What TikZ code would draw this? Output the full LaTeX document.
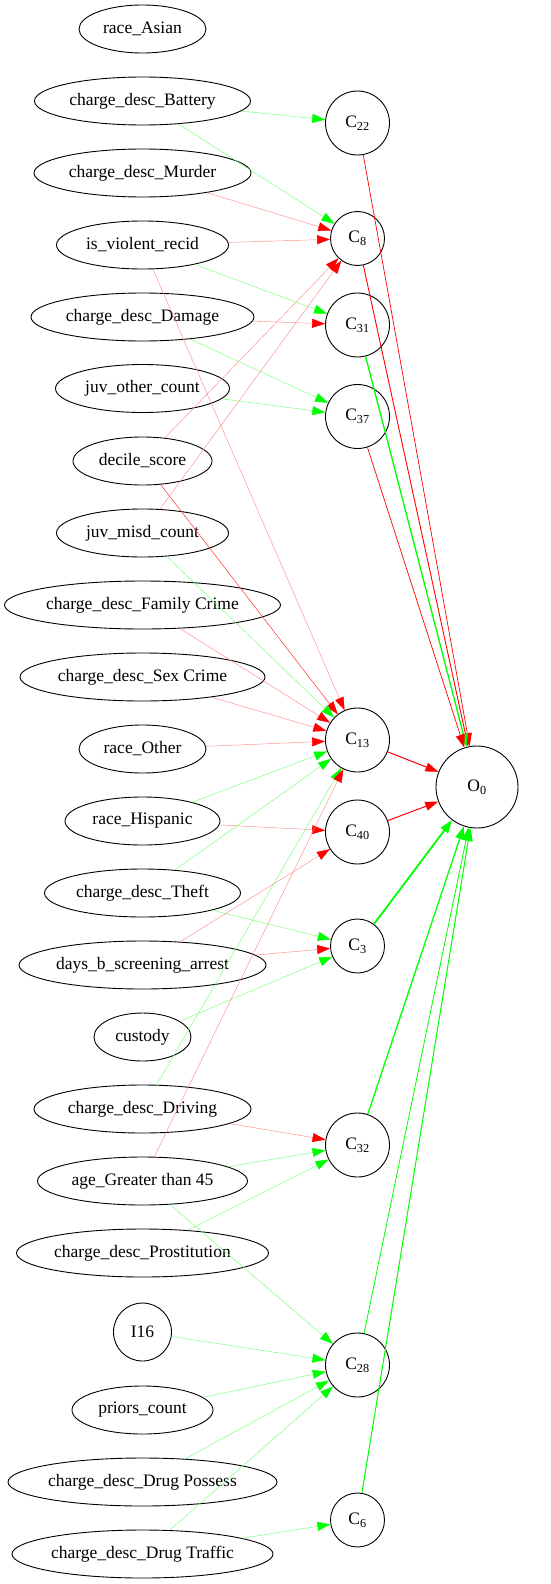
\documentclass[tikz,border=0pt]{standalone}
\usepackage{fontspec}
\setmainfont{Liberation Serif}
\usetikzlibrary{shapes.geometric,arrows.meta}
\definecolor{gr}{RGB}{0,255,0}
\definecolor{rd}{RGB}{255,0,0}
\tikzset{
  feat/.style={draw,ellipse,line width=0.9pt,inner sep=0pt,minimum height=48pt,font=\fontsize{17.5}{20}\selectfont},
  cnode/.style={draw,circle,line width=0.9pt,inner sep=0pt,font=\fontsize{17.5}{20}\selectfont},
  gf/.style={-{Triangle[length=13pt,width=9pt,color=gr]},draw=gr!55,line width=0.45pt},
  rf/.style={-{Triangle[length=13pt,width=9pt,color=rd]},draw=rd!45,line width=0.45pt},
  rm/.style={-{Triangle[length=13pt,width=9pt,color=rd]},draw=rd!80,line width=0.5pt},
  gw/.style={-{Triangle[length=13pt,width=9pt]},draw=gr,line width=#1},
  rw/.style={-{Triangle[length=13pt,width=9pt]},draw=rd,line width=#1},
}
\begin{document}
\begin{tikzpicture}[x=1pt,y=-1pt]
\useasboundingbox (0,0) rectangle (550,1584);
% left column
\node[feat,minimum width=127pt] (asian) at (142.5,29) {race\_Asian};
\node[feat,minimum width=216pt] (bat) at (142.5,101) {charge\_desc\_Battery};
\node[feat,minimum width=217pt] (mur) at (142.5,173) {charge\_desc\_Murder};
\node[feat,minimum width=172pt] (viol) at (142.5,245) {is\_violent\_recid};
\node[feat,minimum width=223pt] (dam) at (142.5,317) {charge\_desc\_Damage};
\node[feat,minimum width=174pt] (juvo) at (142.5,388.5) {juv\_other\_count};
\node[feat,minimum width=139pt] (dec) at (142.5,461) {decile\_score};
\node[feat,minimum width=172pt] (juvm) at (142.5,533) {juv\_misd\_count};
\node[feat,minimum width=276pt] (fam) at (142.5,605) {charge\_desc\_Family Crime};
\node[feat,minimum width=245pt] (sex) at (142.5,677) {charge\_desc\_Sex Crime};
\node[feat,minimum width=127pt] (oth) at (142.5,749) {race\_Other};
\node[feat,minimum width=155pt] (his) at (142.5,821) {race\_Hispanic};
\node[feat,minimum width=196pt] (theft) at (142.5,893) {charge\_desc\_Theft};
\node[feat,minimum width=247pt] (days) at (142.5,965) {days\_b\_screening\_arrest};
\node[feat,minimum width=97pt] (cust) at (142.5,1037) {custody};
\node[feat,minimum width=217pt] (drv) at (142.5,1109) {charge\_desc\_Driving};
\node[feat,minimum width=210pt] (age) at (142.5,1181) {age\_Greater than 45};
\node[feat,minimum width=252pt] (pros) at (142.5,1253) {charge\_desc\_Prostitution};
\node[cnode,minimum size=58pt] (i16) at (142.5,1332) {I16};
\node[feat,minimum width=141pt] (pri) at (142.5,1410) {priors\_count};
\node[feat,minimum width=269pt] (dpos) at (142.5,1482) {charge\_desc\_Drug Possess};
\node[feat,minimum width=261pt] (dtra) at (142.5,1554) {charge\_desc\_Drug Traffic};
% middle column
\node[cnode,minimum size=64pt] (c22) at (357.5,123) {C\textsubscript{22}};
\node[cnode,minimum size=54pt] (c8) at (357.5,238.5) {C\textsubscript{8}};
\node[cnode,minimum size=64pt] (c31) at (357.5,325) {C\textsubscript{31}};
\node[cnode,minimum size=64pt] (c37) at (357.5,416.5) {C\textsubscript{37}};
\node[cnode,minimum size=64pt] (c13) at (357.5,740) {C\textsubscript{13}};
\node[cnode,minimum size=64pt] (c40) at (357.5,832) {C\textsubscript{40}};
\node[cnode,minimum size=54pt] (c3) at (357.5,946) {C\textsubscript{3}};
\node[cnode,minimum size=64pt] (c32) at (357.5,1145) {C\textsubscript{32}};
\node[cnode,minimum size=64pt] (c28) at (357.5,1365) {C\textsubscript{28}};
\node[cnode,minimum size=54pt] (c6) at (357.5,1520) {C\textsubscript{6}};
% output
\node[cnode,minimum size=82pt] (o0) at (477,787) {O\textsubscript{0}};
% input edges
\draw[gf] (bat) -- (c22);
\draw[gf] (bat) -- (c8);
\draw[rf] (mur) -- (c8);
\draw[rf] (viol) -- (c8);
\draw[gf] (viol) -- (c31);
\draw[rf] (viol) -- (c13);
\draw[rf] (dam) -- (c31);
\draw[gf] (dam) -- (c37);
\draw[gf] (juvo) -- (c37);
\draw[rf] (dec) -- (c8);
\draw[rm] (dec) -- (c13);
\draw[rf] (juvm) -- (c8);
\draw[gf] (juvm) -- (c13);
\draw[rf] (fam) -- (c13);
\draw[rf] (sex) -- (c13);
\draw[rf] (oth) -- (c13);
\draw[gf] (his) -- (c13);
\draw[rf] (his) -- (c40);
\draw[gf] (theft) -- (c13);
\draw[gf] (theft) -- (c3);
\draw[rf] (days) -- (c40);
\draw[rf] (days) -- (c3);
\draw[gf] (cust) -- (c3);
\draw[gf] (drv) -- (c13);
\draw[rf] (drv) -- (c32);
\draw[rf] (age) -- (c13);
\draw[gf] (age) -- (c32);
\draw[gf] (age) -- (c28);
\draw[gf] (pros) -- (c32);
\draw[gf] (i16) -- (c28);
\draw[gf] (pri) -- (c28);
\draw[gf] (dpos) -- (c28);
\draw[gf] (dtra) -- (c28);
\draw[gf] (dtra) -- (c6);
% output edges
\draw[rw=0.7pt] (c22) -- (o0);
\draw[rw=0.9pt] (c8) -- (o0);
\draw[gw=1.3pt] (c31) -- (o0);
\draw[rw=0.7pt] (c37) -- (o0);
\draw[rw=1pt] (c13) -- (o0);
\draw[rw=1pt] (c40) -- (o0);
\draw[gw=1.8pt] (c3) -- (o0);
\draw[gw=1.3pt] (c32) -- (o0);
\draw[gw=0.8pt] (c28) -- (o0);
\draw[gw=1pt] (c6) -- (o0);
\end{tikzpicture}
\end{document}
